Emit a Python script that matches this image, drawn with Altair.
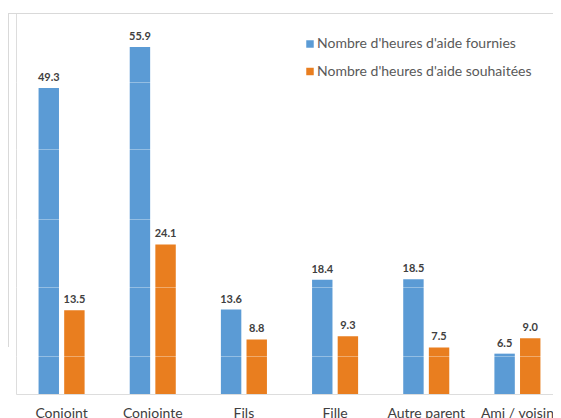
import altair as alt
import pandas as pd

categories = ["Conjoint", "Conjointe", "Fils", "Fille", "Autre parent", "Ami / voisin"]
series_names = ["Nombre d'heures d'aide fournies", "Nombre d'heures d'aide souhaitées"]
fournies = [49.3, 55.9, 13.6, 18.4, 18.5, 6.5]
souhaitees = [13.5, 24.1, 8.8, 9.3, 7.5, 9.0]
grid_values = [6.1, 17.2, 28.2, 39.4, 50.3]
colors = ["#5B9BD5", "#E97E1F"]

rows = []
for c, a, b in zip(categories, fournies, souhaitees):
    rows.append({"cat": c, "serie": series_names[0], "val": a})
    rows.append({"cat": c, "serie": series_names[1], "val": b})
df = pd.DataFrame(rows)

FONT = "Lato"

x_enc = alt.X("cat:N", sort=categories,
              scale=alt.Scale(range=[0, 547], paddingInner=0.495, paddingOuter=0.2475),
              axis=alt.Axis(title=None, labelAngle=0, domain=False, ticks=False,
                            labelFontSize=14, labelColor="#404040", labelFont=FONT,
                            labelPadding=12, labelBaseline="top"))
xo_enc = alt.XOffset("serie:N", sort=series_names,
                     scale=alt.Scale(paddingInner=0.203, paddingOuter=0))
y_scale = alt.Scale(domain=[0, 61.38], nice=False, zero=True)

bars = alt.Chart(df).mark_bar().encode(
    x=x_enc,
    xOffset=xo_enc,
    y=alt.Y("val:Q", scale=y_scale,
            axis=alt.Axis(title=None, values=grid_values, labels=False, ticks=False,
                          domain=False, grid=True, gridColor="#ffffff",
                          gridOpacity=0.35, gridWidth=1, zindex=1)),
    color=alt.Color("serie:N", sort=series_names,
                    scale=alt.Scale(domain=series_names, range=colors),
                    legend=alt.Legend(title=None, orient="none", legendX=287, legendY=24,
                                      symbolType="square", symbolSize=56,
                                      symbolStrokeWidth=0, labelFont=FONT,
                                      labelFontSize=14, labelColor="#595959",
                                      labelOffset=0, labelLimit=400,
                                      rowPadding=13.5, padding=0)),
)

labels = alt.Chart(df).mark_text(
    dy=-7, baseline="alphabetic", font=FONT, fontSize=11, fontWeight="bold",
    color="#404040"
).encode(
    x=alt.X("cat:N", sort=categories),
    xOffset=alt.XOffset("serie:N", sort=series_names),
    y=alt.Y("val:Q", scale=y_scale),
    text=alt.Text("val:Q", format=".1f"),
)

border_top = alt.Chart(df).mark_rule(color="#d9d9d9", strokeWidth=1).encode(
    x=alt.value(-8), x2=alt.value(545), y=alt.value(0.5)
)
border_left = alt.Chart(df).mark_rule(color="#d9d9d9", strokeWidth=1).encode(
    x=alt.value(-7.5), y=alt.value(0), y2=alt.value(334)
)

chart = alt.layer(bars, labels, border_top, border_left).properties(
    width=537, height=381,
    autosize=alt.AutoSizeParams(type="none"),
    padding={"left": 8, "top": 5, "right": 0, "bottom": 28},
).configure_view(stroke=None).configure(background="white")

chart.save("out.html", embed_options={"renderer": "svg", "actions": False})
